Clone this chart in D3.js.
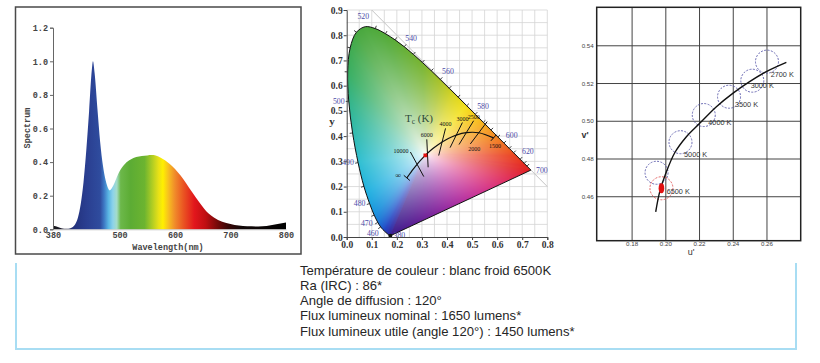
<!DOCTYPE html>
<html><head><meta charset="utf-8">
<script src="https://cdn.jsdelivr.net/npm/d3@7"></script>
<style>body{margin:0;background:#fff}svg{display:block}</style>
</head><body><svg id="c" width="820" height="363"></svg>
<script>
// ================= DATA =================
// Panel 1 : spectrum
const specWl  = [380,385,390,395,400,405,410,415,420,425,430,435,440,445,450,452,455,460,465,470,475,480,482,485,490,495,500,510,520,530,540,550,558,565,575,590,610,630,645,660,670,685,700,715,730,750,765,780,800];
const specVal = [0.02,0.018,0.012,0.006,0.003,0.003,0.005,0.012,0.03,0.07,0.15,0.28,0.47,0.70,0.95,1.0,0.93,0.72,0.52,0.38,0.29,0.24,0.232,0.24,0.27,0.31,0.345,0.39,0.415,0.43,0.437,0.44,0.442,0.44,0.425,0.39,0.32,0.225,0.155,0.095,0.07,0.045,0.032,0.022,0.018,0.017,0.02,0.028,0.04];
const specYTicks = [0,0.2,0.4,0.6,0.8,1.0,1.2];
const specXTicks = [380,500,600,700,800];

// Panel 2 : CIE 1931 xy
const locWl = [380,400,420,430,440,450,460,465,470,475,480,485,490,495,500,505,510,515,520,525,530,535,540,545,550,555,560,565,570,575,580,585,590,595,600,605,610,620,630,640,650,660,680,700];
const locX  = [0.1741,0.1733,0.1714,0.1689,0.1644,0.1566,0.1440,0.1355,0.1241,0.1096,0.0913,0.0687,0.0454,0.0235,0.0082,0.0039,0.0139,0.0389,0.0743,0.1142,0.1547,0.1929,0.2296,0.2658,0.3016,0.3373,0.3731,0.4087,0.4441,0.4788,0.5125,0.5448,0.5752,0.6029,0.6270,0.6482,0.6658,0.6915,0.7079,0.7190,0.7260,0.7300,0.7334,0.7347];
const locY  = [0.0050,0.0048,0.0051,0.0069,0.0109,0.0177,0.0297,0.0399,0.0578,0.0868,0.1327,0.2007,0.2950,0.4127,0.5384,0.6548,0.7502,0.8120,0.8338,0.8262,0.8059,0.7816,0.7543,0.7243,0.6923,0.6589,0.6245,0.5896,0.5547,0.5202,0.4866,0.4544,0.4242,0.3965,0.3725,0.3514,0.3340,0.3083,0.2920,0.2809,0.2740,0.2700,0.2666,0.2653];
const locLabels = [380,460,470,480,490,500,520,540,560,580,600,620,700];
const locTicks  = [465,470,475,480,485,490,495,500,505,510,515,525,530,535,540,545,550,555,560,565,570,575,580,585,590,595,600,605,610,620,630,640];
const plT = ["1500","2000","2500","3000","3500","4000","5000","6000","7000","8000","10000","15000","20000","∞"];
const plX = [0.5857,0.5267,0.4770,0.4369,0.4053,0.3805,0.3451,0.3221,0.3064,0.2952,0.2807,0.2637,0.2565,0.2399];
const plY = [0.3931,0.4133,0.4137,0.4041,0.3907,0.3768,0.3516,0.3318,0.3166,0.3048,0.2883,0.2671,0.2573,0.2342];
const isoT = ["10000","6000","4000","3000","2500","2000","1500","∞"];
const markerXY = [0.3135,0.3237];
const whitePoint = [0.3127,0.3290];
const xyXTicks = [0,0.1,0.2,0.3,0.4,0.5,0.6,0.7,0.8];
const xyYTicks = [0,0.1,0.2,0.3,0.4,0.5,0.6,0.7,0.8,0.9];

// Panel 3 : CIE 1976 u'v'
const cctU = [0.1940,0.1964,0.2000,0.2053,0.2122,0.2201,0.2300,0.2399,0.2497,0.2596,0.2715];
const cctV = [0.4520,0.4627,0.4724,0.4833,0.4918,0.4989,0.5077,0.5149,0.5210,0.5263,0.5312];
const circleU = [0.1945,0.1974,0.2087,0.2225,0.2375,0.2513,0.2600];
const circleV = [0.4727,0.4645,0.4889,0.5033,0.5130,0.5215,0.5316];
const circleIsRef = [false,true,false,false,false,false,false];
const cctLabels = ["6500 K","5000 K","4000 K","3500 K","3000 K","2700 K"];
const cctLabelU = [0.2005,0.2108,0.2252,0.2410,0.2503,0.2622];
const cctLabelV = [0.4627,0.4825,0.4992,0.5091,0.5188,0.5250];
const uTicks = [0.18,0.20,0.22,0.24,0.26];
const vTicks = [0.46,0.48,0.50,0.52,0.54];

// Info text
const infoLines = ["Température de couleur : blanc froid 6500K","Ra (IRC) : 86*","Angle de diffusion : 120°","Flux lumineux nominal : 1650 lumens*","Flux lumineux utile (angle 120°) : 1450 lumens*"];

// ================= STYLE (colour ramps) =================
const specColorWl  = [380,405,415,440,465,472,480,488,495,502,520,545,560,570,578,588,600,615,635,655,675,695,720,800];
const specColorHex = ["#1a1a1a","#1c1c3a","#22307a","#2a3e90","#2f4c9e","#3d78c4","#5ab6e4","#8dd3ea","#a4dcc8","#6cb84a","#5cac34","#6cb430","#b5cf22","#e6e018","#fff000","#f7c020","#f08a2a","#ea5522","#e2161c","#c00e12","#7a0a0a","#3a0606","#120808","#000000"];
const gamutColorWl  = [380,440,455,465,475,483,490,497,505,515,530,550,560,568,575,582,590,600,615,640,700];
const gamutColorHex = ["#3a1a8a","#2a2aa8","#2040c0","#1c60d0","#1890dc","#20b0e0","#30bfd2","#30b8a0","#38ae62","#48a840","#52aa38","#78b430","#a8c228","#d8d41e","#f4e01a","#f8c21c","#f59a22","#f07020","#ea4020","#e32520","#e01e1e"];
const purpleHex = ["#e01e1e","#e23a86","#b430a8","#6a2098","#3a1a8a"];

// ================= DRAW =================
const svg = d3.select("#c");
svg.append("rect").attr("width",820).attr("height",363).attr("fill","#fff");
const defs = svg.append("defs");

// ---------- Panel 1 ----------
const p1 = svg.append("g");
p1.append("rect").attr("x",15.5).attr("y",7).attr("width",285.5).attr("height",247)
  .attr("fill","none").attr("stroke","#4a4a4a").attr("stroke-width",1.5);
const x1 = d3.scaleLinear([380,800],[53,286]);
const y1 = d3.scaleLinear([0,1.2],[229.3,27.7]);
const grad = defs.append("linearGradient").attr("id","spec").attr("gradientUnits","userSpaceOnUse")
  .attr("x1",x1(380)).attr("x2",x1(800)).attr("y1",0).attr("y2",0);
grad.selectAll("stop").data(specColorWl).join("stop")
  .attr("offset",d=>(d-380)/420).attr("stop-color",(d,i)=>specColorHex[i]);
const area1 = d3.area().x((d,i)=>x1(specWl[i])).y0(y1(0)).y1(d=>y1(d)).curve(d3.curveMonotoneX);
p1.append("path").datum(specVal).attr("d",area1).attr("fill","url(#spec)");
const monoFont = "'Liberation Mono','DejaVu Sans Mono',monospace";
const ay1 = p1.append("g").attr("transform",`translate(${x1(380)},0)`)
  .call(d3.axisLeft(y1).tickValues(specYTicks).tickFormat(d3.format(".1f")).tickSize(3).tickPadding(2));
const ax1 = p1.append("g").attr("transform",`translate(0,${y1(0)})`)
  .call(d3.axisBottom(x1).tickValues(specXTicks).tickSize(0).tickPadding(3));
[ay1,ax1].forEach(a=>{
  a.selectAll("path,line").attr("stroke","#666");
  a.selectAll("text").attr("font-family",monoFont).attr("font-weight","bold").attr("font-size",8.5).attr("fill","#444");
});
ax1.select(".domain").attr("stroke","#999").attr("stroke-width",0.5);
p1.append("text").attr("x",168).attr("y",250).attr("text-anchor","middle")
  .attr("font-family",monoFont).attr("font-weight","bold").attr("font-size",8.5).attr("fill","#444").text("Wavelength(nm)");
p1.append("text").attr("transform","translate(30,128) rotate(-90)").attr("text-anchor","middle")
  .attr("font-family",monoFont).attr("font-weight","bold").attr("font-size",8.5).attr("fill","#444").text("Spectrum");

// ---------- Panel 2 ----------
const p2 = svg.append("g");
const x2 = d3.scaleLinear([0,0.8],[346.7,547.3]);
const y2 = d3.scaleLinear([0,0.9],[237,10]);
const serif = "'Liberation Serif','DejaVu Serif',serif";
const gx = d3.range(0.05,0.8001,0.05), gy = d3.range(0.05,0.9001,0.05);
p2.append("g").selectAll("line").data(gx).join("line")
  .attr("x1",d=>x2(d)).attr("x2",d=>x2(d)).attr("y1",y2(0)).attr("y2",y2(0.9))
  .attr("stroke","#d4d4d4").attr("stroke-width",0.8);
p2.append("g").selectAll("line").data(gy).join("line")
  .attr("y1",d=>y2(d)).attr("y2",d=>y2(d)).attr("x1",x2(0)).attr("x2",x2(0.8))
  .attr("stroke","#d4d4d4").attr("stroke-width",0.8);
p2.append("line").attr("x1",x2(0.1)).attr("y1",y2(0.9)).attr("x2",x2(0.8)).attr("y2",y2(0.2))
  .attr("stroke","#c4c4c4").attr("stroke-width",1);
const locus = locWl.map((w,i)=>({w, x:locX[i], y:locY[i]}));
const locPath = d3.line().x(d=>x2(d.x)).y(d=>y2(d.y)).curve(d3.curveCatmullRom)(locus) + "Z";
defs.append("clipPath").attr("id","gam").append("path").attr("d",locPath);
(function(){
  const wlCol = d3.scaleLinear(gamutColorWl, gamutColorHex).interpolate(d3.interpolateRgb);
  const purp = d3.interpolateRgbBasis(purpleHex);
  const samples = [];
  for (let i=0;i<locus.length-1;i++){
    const a=locus[i], b=locus[i+1];
    for (let s=0;s<12;s++){ const t=s/12; samples.push({x:a.x+(b.x-a.x)*t, y:a.y+(b.y-a.y)*t, c:d3.rgb(wlCol(a.w+(b.w-a.w)*t))}); }
  }
  const A=locus[locus.length-1], B=locus[0];
  for (let s=0;s<=300;s++){ const t=s/300; samples.push({x:A.x+(B.x-A.x)*t, y:A.y+(B.y-A.y)*t, c:d3.rgb(purp(t))}); }
  const [wx,wy]=whitePoint;
  samples.forEach(p=>{ p.a=Math.atan2(p.y-wy,p.x-wx); p.d=Math.hypot(p.x-wx,p.y-wy); });
  samples.sort((p,q)=>p.a-q.a);
  const bis = d3.bisector(p=>p.a).left;
  const left = x2(0), top = y2(0.9);
  const W = Math.ceil(x2(0.8)-left), H = Math.ceil(y2(0)-top);
  const cv = document.createElement("canvas"); cv.width=W; cv.height=H;
  const ctx = cv.getContext("2d"); const im = ctx.createImageData(W,H);
  for(let j=0;j<H;j++) for(let i=0;i<W;i++){
    const x = x2.invert(left+i+0.5), y = y2.invert(top+j+0.5);
    const ang=Math.atan2(y-wy,x-wx), dist=Math.hypot(x-wx,y-wy);
    let k=bis(samples,ang); if(k<=0) k=1; if(k>=samples.length) k=samples.length-1;
    const p=samples[k-1], q=samples[k]; const t=(q.a===p.a)?0:Math.max(0,Math.min(1,(ang-p.a)/(q.a-p.a)));
    const bd=p.d+(q.d-p.d)*t;
    const cr=p.c.r+(q.c.r-p.c.r)*t, cg=p.c.g+(q.c.g-p.c.g)*t, cb=p.c.b+(q.c.b-p.c.b)*t;
    const s=Math.min(1,dist/bd), f=Math.pow(s,0.7);
    const o=(j*W+i)*4;
    im.data[o]=255+(cr-255)*f; im.data[o+1]=255+(cg-255)*f; im.data[o+2]=255+(cb-255)*f; im.data[o+3]=255;
  }
  ctx.putImageData(im,0,0);
  p2.append("image").attr("x",left).attr("y",top).attr("width",W).attr("height",H)
    .attr("preserveAspectRatio","none").attr("href",cv.toDataURL()).attr("clip-path","url(#gam)");
})();
p2.append("path").attr("d",locPath).attr("fill","none").attr("stroke","#111").attr("stroke-width",1);
function normalAt(idx){
  if (idx===0 || idx===locus.length-1) return [1,0];
  const a=locus[idx-1], b=locus[idx+1];
  let tx=x2(b.x)-x2(a.x), ty=y2(b.y)-y2(a.y); const L=Math.hypot(tx,ty); tx/=L; ty/=L;
  return [ty,-tx];
}
p2.append("g").selectAll("line").data(locTicks).join("line").each(function(w){
  const idx=locWl.indexOf(w), p=locus[idx], n=normalAt(idx);
  d3.select(this).attr("x1",x2(p.x)).attr("y1",y2(p.y)).attr("x2",x2(p.x)+n[0]*3).attr("y2",y2(p.y)+n[1]*3);
}).attr("stroke","#111").attr("stroke-width",0.8);
p2.append("g").selectAll("text").data(locLabels).join("text").each(function(w){
  const idx=locWl.indexOf(w), p=locus[idx];
  let dx, dy;
  if (idx===0){ dx=9; dy=0; }
  else if (w===460){ dx=-10; dy=3.8; }
  else if (w===470){ dx=-11; dy=0.5; }
  else if (w<=500){ dx=-10; dy=0; }
  else { const n=normalAt(idx); dx=n[0]*11; dy=n[1]*11; }
  d3.select(this).attr("x",x2(p.x)+dx).attr("y",y2(p.y)+dy);
}).attr("text-anchor","middle").attr("dy","0.35em").attr("font-family",serif).attr("font-size",7.8)
  .attr("fill","#4b4ba8").text(d=>d);
p2.append("circle").attr("cx",x2(locX[0])).attr("cy",y2(locY[0])).attr("r",2).attr("fill","#111");
const pl = plT.map((t,i)=>({t, x:plX[i], y:plY[i]}));
p2.append("path").datum(pl).attr("d",d3.line().x(d=>x2(d.x)).y(d=>y2(d.y)).curve(d3.curveCatmullRom))
  .attr("fill","none").attr("stroke","#111").attr("stroke-width",1.2);
const toUV = (x,y)=>{const d=-2*x+12*y+3; return [4*x/d, 6*y/d];};
const toXY = (u,v)=>{const d=2*u-8*v+4; return [3*u/d, 2*v/d];};
const isoG = p2.append("g");
isoT.forEach((t)=>{
  const i = plT.indexOf(t);
  const a = pl[Math.max(i-1,0)], b = pl[Math.min(i+1,pl.length-1)];
  const ua = toUV(a.x,a.y), ub = toUV(b.x,b.y);
  let tu=ub[0]-ua[0], tv=ub[1]-ua[1]; const L=Math.hypot(tu,tv); tu/=L; tv/=L;
  const nu=-tv, nv=tu, c=toUV(pl[i].x,pl[i].y), d=0.01;
  const e1=toXY(c[0]+nu*d,c[1]+nv*d), e2=toXY(c[0]-nu*d,c[1]-nv*d);
  const cx=x2(pl[i].x), cy=y2(pl[i].y);
  let dx=x2(e1[0])-x2(e2[0]), dy=y2(e1[1])-y2(e2[1]); const M=Math.hypot(dx,dy); dx/=M; dy/=M;
  const half = (t==="∞"||t==="1500") ? 4 : 14;
  let pa=[cx+dx*half, cy+dy*half], pb=[cx-dx*half, cy-dy*half];
  if (pa[1]>pb[1]) [pa,pb]=[pb,pa];
  isoG.append("line").attr("x1",pa[0]).attr("y1",pa[1]).attr("x2",pb[0]).attr("y2",pb[1])
    .attr("stroke","#111").attr("stroke-width",1);
  let lx, ly, anchor="middle";
  if (t==="10000"){ lx=pa[0]-2; ly=pa[1]-1; anchor="end"; }
  else if (t==="∞"){ lx=cx-6; ly=cy-3; anchor="end"; }
  else if (t==="2000"||t==="1500"){ lx=pb[0]+4; ly=pb[1]+5; }
  else { lx=pa[0]; ly=pa[1]-4; }
  isoG.append("text").attr("x",lx).attr("y",ly).attr("text-anchor",anchor).attr("dy","0.35em")
    .attr("font-family",serif).attr("font-size",t==="∞"?8:6).attr("fill","#111").text(t);
});
const tc = p2.append("text").attr("x",419).attr("y",122).attr("text-anchor","middle")
  .attr("font-family",serif).attr("font-size",11).attr("fill","#2e4a3a");
tc.append("tspan").text("T");
tc.append("tspan").attr("dy",2).attr("font-size",7.5).text("c");
tc.append("tspan").attr("dy",-2).text(" (K)");
p2.append("path").attr("d",d3.symbol(d3.symbolSquare,14)())
  .attr("transform",`translate(${x2(markerXY[0])},${y2(markerXY[1])})`).attr("fill","#e01010");
const ax2 = p2.append("g").attr("transform",`translate(0,${y2(0)})`)
  .call(d3.axisBottom(x2).tickValues(xyXTicks).tickFormat(d3.format(".1f")).tickSize(3).tickPadding(1));
const ay2 = p2.append("g").attr("transform",`translate(${x2(0)},0)`)
  .call(d3.axisLeft(y2).tickValues(xyYTicks).tickFormat(d3.format(".1f")).tickSize(3).tickPadding(1));
[ax2,ay2].forEach(a=>{
  a.selectAll("path,line").attr("stroke","#444");
  a.selectAll("text").attr("font-family",serif).attr("font-weight","bold").attr("font-size",9.5).attr("fill","#333");
});
p2.append("text").attr("x",332).attr("y",125).attr("text-anchor","middle")
  .attr("font-family",serif).attr("font-weight","bold").attr("font-size",11).attr("fill","#333").text("y");

// ---------- Panel 3 ----------
const p3 = svg.append("g");
const x3 = d3.scaleLinear([0.159,0.28],[596.7,800.7]);
const y3 = d3.scaleLinear([0.4367,0.5604],[240.7,7.3]);
const sans = "'Liberation Sans','DejaVu Sans',Arial,sans-serif";
p3.append("g").selectAll("line").data(uTicks).join("line")
  .attr("x1",d=>x3(d)).attr("x2",d=>x3(d)).attr("y1",y3.range()[0]).attr("y2",y3.range()[1])
  .attr("stroke","#444").attr("stroke-width",1);
p3.append("g").selectAll("line").data(vTicks).join("line")
  .attr("y1",d=>y3(d)).attr("y2",d=>y3(d)).attr("x1",x3.range()[0]).attr("x2",x3.range()[1])
  .attr("stroke","#444").attr("stroke-width",1);
p3.append("rect").attr("x",x3.range()[0]).attr("y",y3.range()[1])
  .attr("width",x3.range()[1]-x3.range()[0]).attr("height",y3.range()[0]-y3.range()[1])
  .attr("fill","none").attr("stroke","#222").attr("stroke-width",1.5);
p3.append("g").selectAll("text").data(uTicks).join("text")
  .attr("x",d=>x3(d)).attr("y",y3.range()[0]+3.5).attr("dy","0.35em").attr("text-anchor","middle")
  .attr("font-family",sans).attr("font-size",6.2).attr("fill","#444").text(d3.format(".2f"));
p3.append("g").selectAll("text").data(vTicks).join("text")
  .attr("x",x3.range()[0]-3).attr("y",d=>y3(d)).attr("dy","0.35em").attr("text-anchor","end")
  .attr("font-family",sans).attr("font-size",6.2).attr("fill","#444").text(d3.format(".2f"));
p3.append("text").attr("x",691).attr("y",255).attr("text-anchor","middle")
  .attr("font-family",sans).attr("font-size",9).attr("fill","#333").text("u'");
p3.append("text").attr("x",585).attr("y",138).attr("text-anchor","middle")
  .attr("font-family",sans).attr("font-weight","bold").attr("font-size",9).attr("fill","#333").text("v'");
p3.append("g").selectAll("circle").data(circleU).join("circle")
  .attr("cx",d=>x3(d)).attr("cy",(d,i)=>y3(circleV[i])).attr("r",11.5).attr("fill","none")
  .attr("stroke",(d,i)=>circleIsRef[i]?"#e05050":"#5a5aaa").attr("stroke-width",0.9).attr("stroke-dasharray","2,1.4");
p3.append("path").datum(cctU).attr("d",d3.line().x(d=>x3(d)).y((d,i)=>y3(cctV[i])).curve(d3.curveCatmullRom))
  .attr("fill","none").attr("stroke","#111").attr("stroke-width",1.4);
const refI = circleIsRef.indexOf(true);
p3.append("ellipse").attr("cx",x3(circleU[refI])).attr("cy",y3(circleV[refI])).attr("rx",2.8).attr("ry",5)
  .attr("fill","#e01010");
p3.append("g").selectAll("text").data(cctLabels).join("text")
  .attr("x",(d,i)=>x3(cctLabelU[i])).attr("y",(d,i)=>y3(cctLabelV[i])).attr("dy","0.35em")
  .attr("font-family",sans).attr("font-size",7.3).attr("fill","#333").text(d=>d);

// ---------- Info box ----------
const p4 = svg.append("g");
p4.append("path").attr("d","M16,263V349H796V263").attr("fill","none").attr("stroke","#a8ddf3").attr("stroke-width",2);
p4.append("g").selectAll("text").data(infoLines).join("text")
  .attr("x",300).attr("y",(d,i)=>274.5+i*15.3)
  .attr("font-family","'Liberation Sans',Arial,sans-serif").attr("font-size",13.1).attr("fill","#262626").text(d=>d);
</script></body></html>
